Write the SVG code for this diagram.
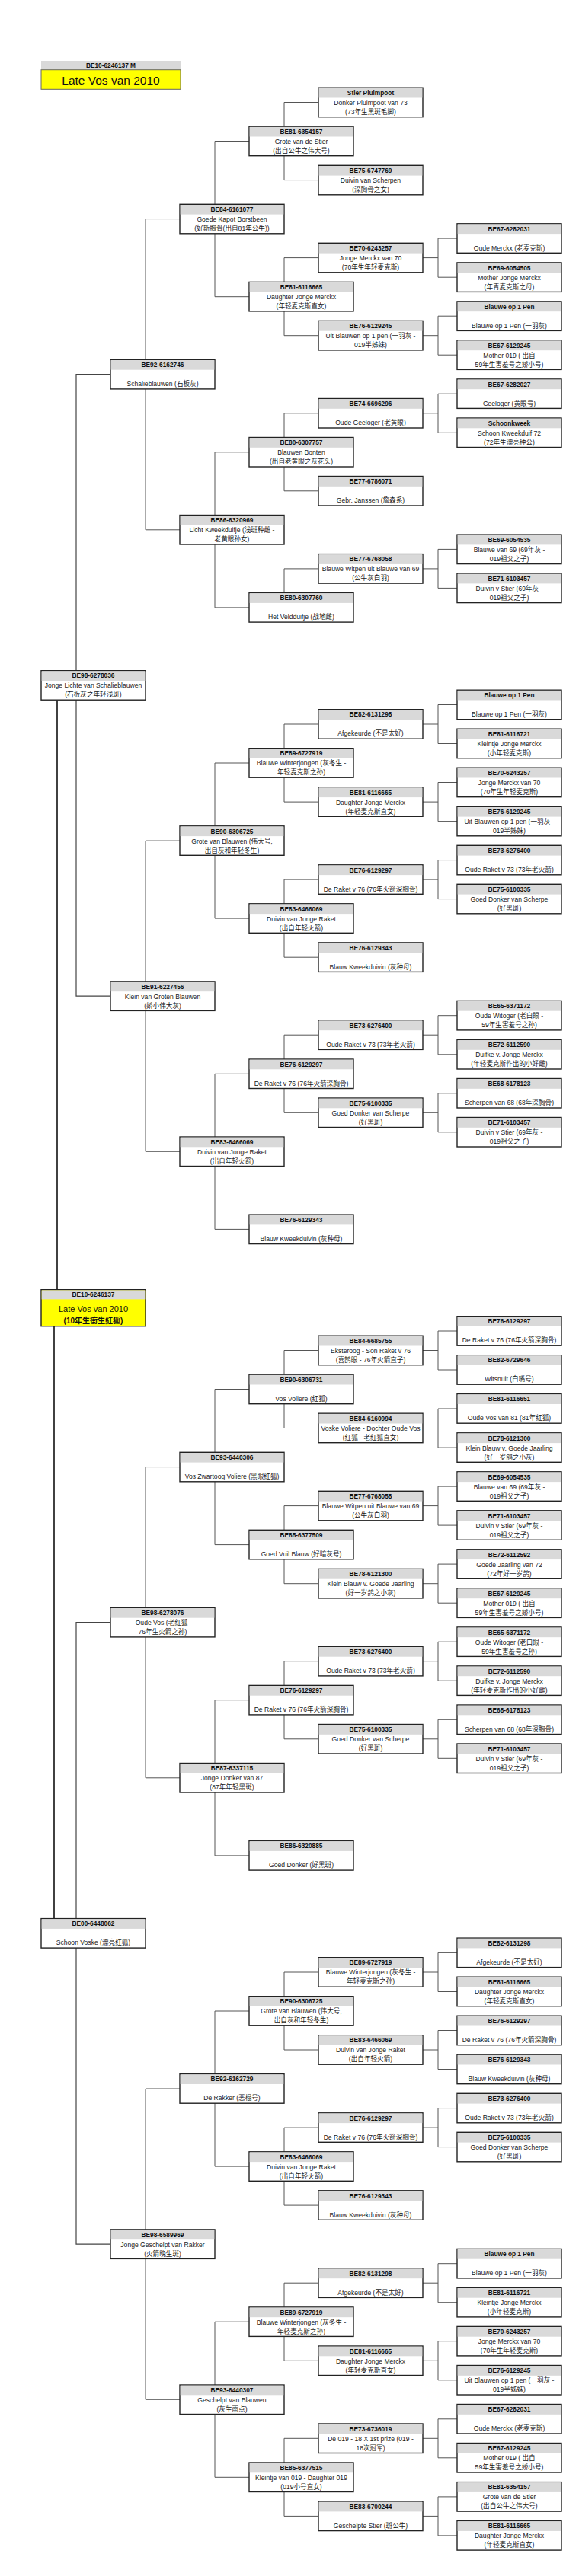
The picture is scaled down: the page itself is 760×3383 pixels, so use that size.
<svg xmlns="http://www.w3.org/2000/svg" xmlns:xlink="http://www.w3.org/1999/xlink" width="760" height="3383" viewBox="0 0 760 3383">
<style>
.h{font-family:"Liberation Sans","Noto Sans CJK SC",sans-serif;font-size:8.3px;font-weight:bold;text-anchor:middle;fill:#111}
.t{font-family:"Liberation Sans","Noto Sans CJK SC",sans-serif;font-size:8.6px;text-anchor:middle;fill:#1a1a1a}
#connectors path{fill:none;stroke:#555;stroke-width:1}
#connectors path.k{stroke:#111;stroke-width:1.6}
#connectors path.m{stroke:#444;stroke-width:1.2}
</style>
<defs>
<g id="bx"><rect x="0" y="0" width="137" height="38.5" fill="#fff" stroke="#222" stroke-width="1.4"/><rect x="0.7" y="0.7" width="135.6" height="12.6" fill="#d9d9d9"/></g>
</defs>
<rect width="760" height="3383" fill="#fff"/>

<g id="title">
<rect x="54" y="80" width="183" height="11.7" fill="#d9d9d9"/>
<text class="h" x="145.5" y="89">BE10-6246137 M</text>
<rect x="54" y="91.7" width="183" height="25.6" fill="#ffff00" stroke="#666" stroke-width="1"/>
<text x="145.5" y="110.5" style="font-family:'Liberation Sans',sans-serif;font-size:15.5px;text-anchor:middle;fill:#111">Late Vos van 2010</text>
</g>

<g id="connectors">
<path class="k" d="M75,919.2 V1693.7"/>
<path class="k" d="M71,1741.7 V2519.6"/>
<path class="m" d="M145,491.7 H100 V1308.2 H145"/>
<path class="m" d="M145,2130.7 H100 V2947.2 H145"/>
<path d="M236,287.6 H191 V695.8 H236"/>
<path d="M236,1104.1 H191 V1512.3 H236"/>
<path d="M236,1926.6 H191 V2334.8 H236"/>
<path d="M236,2743.0 H191 V3151.3 H236"/>
<path d="M327,185.5 H282 V389.7 H327"/>
<path d="M327,593.8 H282 V797.9 H327"/>
<path d="M327,1002.0 H282 V1206.1 H327"/>
<path d="M327,1410.3 H282 V1614.4 H327"/>
<path d="M327,1824.5 H282 V2028.6 H327"/>
<path d="M327,2232.7 H282 V2436.9 H327"/>
<path d="M327,2641.0 H282 V2845.1 H327"/>
<path d="M327,3049.2 H282 V3253.3 H327"/>
<path d="M418,134.5 H373 V236.6 H418"/>
<path d="M418,338.6 H373 V440.7 H418"/>
<path d="M418,542.8 H373 V644.8 H418"/>
<path d="M418,746.9 H373 V797.9"/>
<path d="M418,951.0 H373 V1053.1 H418"/>
<path d="M418,1155.1 H373 V1257.2 H418"/>
<path d="M418,1359.2 H373 V1461.3 H418"/>
<path d="M418,1773.5 H373 V1875.5 H418"/>
<path d="M418,1977.6 H373 V2079.7 H418"/>
<path d="M418,2181.7 H373 V2283.8 H418"/>
<path d="M418,2590.0 H373 V2692.0 H418"/>
<path d="M418,2794.1 H373 V2896.1 H418"/>
<path d="M418,2998.2 H373 V3100.3 H418"/>
<path d="M418,3202.3 H373 V3304.4 H418"/>
<path d="M600,313.1 H575 V364.2 H600 M555,338.6 H575"/>
<path d="M600,415.2 H575 V466.2 H600 M555,440.7 H575"/>
<path d="M600,517.2 H575 V568.3 H600 M555,542.8 H575"/>
<path d="M600,721.4 H575 V772.4 H600 M555,746.9 H575"/>
<path d="M600,925.5 H575 V976.5 H600 M555,951.0 H575"/>
<path d="M600,1027.5 H575 V1078.6 H600 M555,1053.1 H575"/>
<path d="M600,1129.6 H575 V1180.6 H600 M555,1155.1 H575"/>
<path d="M600,1333.7 H575 V1384.8 H600 M555,1359.2 H575"/>
<path d="M600,1435.8 H575 V1486.8 H600 M555,1461.3 H575"/>
<path d="M600,1748.0 H575 V1799.0 H600 M555,1773.5 H575"/>
<path d="M600,1850.0 H575 V1901.1 H600 M555,1875.5 H575"/>
<path d="M600,1952.1 H575 V2003.1 H600 M555,1977.6 H575"/>
<path d="M600,2054.1 H575 V2105.2 H600 M555,2079.7 H575"/>
<path d="M600,2156.2 H575 V2207.2 H600 M555,2181.7 H575"/>
<path d="M600,2258.3 H575 V2309.3 H600 M555,2283.8 H575"/>
<path d="M600,2564.4 H575 V2615.5 H600 M555,2590.0 H575"/>
<path d="M600,2666.5 H575 V2717.5 H600 M555,2692.0 H575"/>
<path d="M600,2768.6 H575 V2819.6 H600 M555,2794.1 H575"/>
<path d="M600,2972.7 H575 V3023.7 H600 M555,2998.2 H575"/>
<path d="M600,3074.7 H575 V3125.8 H600 M555,3100.3 H575"/>
<path d="M600,3176.8 H575 V3227.8 H600 M555,3202.3 H575"/>
<path d="M600,3278.9 H575 V3329.9 H600 M555,3304.4 H575"/>
</g>

<g id="root" transform="translate(54,1693.7)">
<rect x="0" y="0" width="137" height="48" fill="#ffff00" stroke="#222" stroke-width="1.4"/>
<rect x="0.7" y="0.7" width="135.6" height="12" fill="#d9d9d9"/>
<text class="h" x="68.5" y="9.6">BE10-6246137</text>
<text x="68.5" y="29.5" style="font-family:'Liberation Sans',sans-serif;font-size:11px;text-anchor:middle;fill:#111">Late Vos van 2010</text>
<text x="68.5" y="44.5" style="font-family:'Liberation Sans','Noto Sans CJK TC',sans-serif;font-size:10px;font-weight:bold;text-anchor:middle;fill:#111">(10年生衝生紅狐)</text>
</g>

<g id="c1s15" transform="translate(54,880.7)"><use href="#bx"/><text class="h" x="68.5" y="9.8">BE98-6278036</text><text class="t" x="68.5" y="22.8">Jonge Lichte van Schalieblauwen</text><text class="t" x="68.5" y="34.8">(石板灰之年轻浅斑)</text></g>
<g id="c1s47" transform="translate(54,2519.6)"><use href="#bx"/><text class="h" x="68.5" y="9.8">BE00-6448062</text><text class="t" x="68.5" y="34.8">Schoon Voske (漂亮红狐)</text></g>

<g id="c2s7" transform="translate(145,472.4)"><use href="#bx"/><text class="h" x="68.5" y="9.8">BE92-6162746</text><text class="t" x="68.5" y="34.8">Schalieblauwen (石板灰)</text></g>
<g id="c2s23" transform="translate(145,1288.9)"><use href="#bx"/><text class="h" x="68.5" y="9.8">BE91-6227456</text><text class="t" x="68.5" y="22.8">Klein van Groten Blauwen</text><text class="t" x="68.5" y="34.8">(娇小伟大灰)</text></g>
<g id="c2s39" transform="translate(145,2111.4)"><use href="#bx"/><text class="h" x="68.5" y="9.8">BE98-6278076</text><text class="t" x="68.5" y="22.8">Oude Vos  (老红狐-</text><text class="t" x="68.5" y="34.8">76年生火箭之孙)</text></g>
<g id="c2s55" transform="translate(145,2927.9)"><use href="#bx"/><text class="h" x="68.5" y="9.8">BE98-6589969</text><text class="t" x="68.5" y="22.8">Jonge Geschelpt van Rakker</text><text class="t" x="68.5" y="34.8">(火箭晚生斑)</text></g>

<g id="c3s3" transform="translate(236,268.3)"><use href="#bx"/><text class="h" x="68.5" y="9.8">BE84-6161077</text><text class="t" x="68.5" y="22.8">Goede Kapot Borstbeen</text><text class="t" x="68.5" y="34.8">(好斯胸骨(出自81年公牛))</text></g>
<g id="c3s11" transform="translate(236,676.5)"><use href="#bx"/><text class="h" x="68.5" y="9.8">BE86-6320969</text><text class="t" x="68.5" y="22.8">Licht Kweekduifje  (浅斑种雌 -</text><text class="t" x="68.5" y="34.8">老黄眼孙女)</text></g>
<g id="c3s19" transform="translate(236,1084.8)"><use href="#bx"/><text class="h" x="68.5" y="9.8">BE90-6306725</text><text class="t" x="68.5" y="22.8">Grote van Blauwen  (伟大号,</text><text class="t" x="68.5" y="34.8">出自灰和年轻冬生)</text></g>
<g id="c3s27" transform="translate(236,1493.0)"><use href="#bx"/><text class="h" x="68.5" y="9.8">BE83-6466069</text><text class="t" x="68.5" y="22.8">Duivin van Jonge Raket</text><text class="t" x="68.5" y="34.8">(出自年轻火箭)</text></g>
<g id="c3s35" transform="translate(236,1907.3)"><use href="#bx"/><text class="h" x="68.5" y="9.8">BE93-6440306</text><text class="t" x="68.5" y="34.8">Vos Zwartoog Voliere (黑眼红狐)</text></g>
<g id="c3s43" transform="translate(236,2315.5)"><use href="#bx"/><text class="h" x="68.5" y="9.8">BE87-6337115</text><text class="t" x="68.5" y="22.8">Jonge Donker van 87</text><text class="t" x="68.5" y="34.8">(87年年轻黑斑)</text></g>
<g id="c3s51" transform="translate(236,2723.7)"><use href="#bx"/><text class="h" x="68.5" y="9.8">BE92-6162729</text><text class="t" x="68.5" y="34.8">De Rakker (恶棍号)</text></g>
<g id="c3s59" transform="translate(236,3132.0)"><use href="#bx"/><text class="h" x="68.5" y="9.8">BE93-6440307</text><text class="t" x="68.5" y="22.8">Geschelpt van Blauwen</text><text class="t" x="68.5" y="34.8">(灰生雨点)</text></g>

<g id="c4s1" transform="translate(327,166.2)"><use href="#bx"/><text class="h" x="68.5" y="9.8">BE81-6354157</text><text class="t" x="68.5" y="22.8">Grote van de Stier</text><text class="t" x="68.5" y="34.8">(出自公牛之伟大号)</text></g>
<g id="c4s5" transform="translate(327,370.4)"><use href="#bx"/><text class="h" x="68.5" y="9.8">BE81-6116665</text><text class="t" x="68.5" y="22.8">Daughter Jonge Merckx</text><text class="t" x="68.5" y="34.8">(年轻麦克斯直女)</text></g>
<g id="c4s9" transform="translate(327,574.5)"><use href="#bx"/><text class="h" x="68.5" y="9.8">BE80-6307757</text><text class="t" x="68.5" y="22.8">Blauwen Bonten</text><text class="t" x="68.5" y="34.8">(出自老黄眼之灰花头)</text></g>
<g id="c4s13" transform="translate(327,778.6)"><use href="#bx"/><text class="h" x="68.5" y="9.8">BE80-6307760</text><text class="t" x="68.5" y="34.8">Het Veldduifje (战地雌)</text></g>
<g id="c4s17" transform="translate(327,982.7)"><use href="#bx"/><text class="h" x="68.5" y="9.8">BE89-6727919</text><text class="t" x="68.5" y="22.8">Blauwe Winterjongen (灰冬生 -</text><text class="t" x="68.5" y="34.8">年轻麦克斯之孙)</text></g>
<g id="c4s21" transform="translate(327,1186.8)"><use href="#bx"/><text class="h" x="68.5" y="9.8">BE83-6466069</text><text class="t" x="68.5" y="22.8">Duivin van Jonge Raket</text><text class="t" x="68.5" y="34.8">(出自年轻火箭)</text></g>
<g id="c4s25" transform="translate(327,1391.0)"><use href="#bx"/><text class="h" x="68.5" y="9.8">BE76-6129297</text><text class="t" x="68.5" y="34.8">De Raket v 76 (76年火箭深胸骨)</text></g>
<g id="c4s29" transform="translate(327,1595.1)"><use href="#bx"/><text class="h" x="68.5" y="9.8">BE76-6129343</text><text class="t" x="68.5" y="34.8">Blauw Kweekduivin (灰种母)</text></g>
<g id="c4s33" transform="translate(327,1805.2)"><use href="#bx"/><text class="h" x="68.5" y="9.8">BE90-6306731</text><text class="t" x="68.5" y="34.8">Vos Voliere (红狐)</text></g>
<g id="c4s37" transform="translate(327,2009.3)"><use href="#bx"/><text class="h" x="68.5" y="9.8">BE85-6377509</text><text class="t" x="68.5" y="34.8">Goed Vuil Blauw (好暗灰号)</text></g>
<g id="c4s41" transform="translate(327,2213.4)"><use href="#bx"/><text class="h" x="68.5" y="9.8">BE76-6129297</text><text class="t" x="68.5" y="34.8">De Raket v 76 (76年火箭深胸骨)</text></g>
<g id="c4s45" transform="translate(327,2417.6)"><use href="#bx"/><text class="h" x="68.5" y="9.8">BE86-6320885</text><text class="t" x="68.5" y="34.8">Goed Donker (好黑斑)</text></g>
<g id="c4s49" transform="translate(327,2621.7)"><use href="#bx"/><text class="h" x="68.5" y="9.8">BE90-6306725</text><text class="t" x="68.5" y="22.8">Grote van Blauwen  (伟大号,</text><text class="t" x="68.5" y="34.8">出自灰和年轻冬生)</text></g>
<g id="c4s53" transform="translate(327,2825.8)"><use href="#bx"/><text class="h" x="68.5" y="9.8">BE83-6466069</text><text class="t" x="68.5" y="22.8">Duivin van Jonge Raket</text><text class="t" x="68.5" y="34.8">(出自年轻火箭)</text></g>
<g id="c4s57" transform="translate(327,3029.9)"><use href="#bx"/><text class="h" x="68.5" y="9.8">BE89-6727919</text><text class="t" x="68.5" y="22.8">Blauwe Winterjongen (灰冬生 -</text><text class="t" x="68.5" y="34.8">年轻麦克斯之孙)</text></g>
<g id="c4s61" transform="translate(327,3234.0)"><use href="#bx"/><text class="h" x="68.5" y="9.8">BE85-6377515</text><text class="t" x="68.5" y="22.8">Kleintje van 019 - Daughter 019</text><text class="t" x="68.5" y="34.8">(019小号直女)</text></g>

<g id="c5s0" transform="translate(418,115.2)"><use href="#bx"/><text class="h" x="68.5" y="9.8">Stier Pluimpoot</text><text class="t" x="68.5" y="22.8">Donker Pluimpoot van 73</text><text class="t" x="68.5" y="34.8">(73年生黑斑毛脚)</text></g>
<g id="c5s2" transform="translate(418,217.3)"><use href="#bx"/><text class="h" x="68.5" y="9.8">BE75-6747769</text><text class="t" x="68.5" y="22.8">Duivin van Scherpen</text><text class="t" x="68.5" y="34.8">(深胸骨之女)</text></g>
<g id="c5s4" transform="translate(418,319.3)"><use href="#bx"/><text class="h" x="68.5" y="9.8">BE70-6243257</text><text class="t" x="68.5" y="22.8">Jonge Merckx van 70</text><text class="t" x="68.5" y="34.8">(70年生年轻麦克斯)</text></g>
<g id="c5s6" transform="translate(418,421.4)"><use href="#bx"/><text class="h" x="68.5" y="9.8">BE76-6129245</text><text class="t" x="68.5" y="22.8">Uit Blauwen op 1 pen (一羽灰 -</text><text class="t" x="68.5" y="34.8">019半姊妹)</text></g>
<g id="c5s8" transform="translate(418,523.5)"><use href="#bx"/><text class="h" x="68.5" y="9.8">BE74-6696296</text><text class="t" x="68.5" y="34.8">Oude Geeloger (老黄眼)</text></g>
<g id="c5s10" transform="translate(418,625.5)"><use href="#bx"/><text class="h" x="68.5" y="9.8">BE77-6786071</text><text class="t" x="68.5" y="34.8">Gebr. Janssen (詹森系)</text></g>
<g id="c5s12" transform="translate(418,727.6)"><use href="#bx"/><text class="h" x="68.5" y="9.8">BE77-6768058</text><text class="t" x="68.5" y="22.8">Blauwe Witpen uit Blauwe van 69</text><text class="t" x="68.5" y="34.8">(公牛灰白羽)</text></g>
<g id="c5s16" transform="translate(418,931.7)"><use href="#bx"/><text class="h" x="68.5" y="9.8">BE82-6131298</text><text class="t" x="68.5" y="34.8">Afgekeurde (不是太好)</text></g>
<g id="c5s18" transform="translate(418,1033.8)"><use href="#bx"/><text class="h" x="68.5" y="9.8">BE81-6116665</text><text class="t" x="68.5" y="22.8">Daughter Jonge Merckx</text><text class="t" x="68.5" y="34.8">(年轻麦克斯直女)</text></g>
<g id="c5s20" transform="translate(418,1135.8)"><use href="#bx"/><text class="h" x="68.5" y="9.8">BE76-6129297</text><text class="t" x="68.5" y="34.8">De Raket v 76 (76年火箭深胸骨)</text></g>
<g id="c5s22" transform="translate(418,1237.9)"><use href="#bx"/><text class="h" x="68.5" y="9.8">BE76-6129343</text><text class="t" x="68.5" y="34.8">Blauw Kweekduivin (灰种母)</text></g>
<g id="c5s24" transform="translate(418,1339.9)"><use href="#bx"/><text class="h" x="68.5" y="9.8">BE73-6276400</text><text class="t" x="68.5" y="34.8">Oude Raket v 73 (73年老火箭)</text></g>
<g id="c5s26" transform="translate(418,1442.0)"><use href="#bx"/><text class="h" x="68.5" y="9.8">BE75-6100335</text><text class="t" x="68.5" y="22.8">Goed Donker van Scherpe</text><text class="t" x="68.5" y="34.8">(好黑斑)</text></g>
<g id="c5s32" transform="translate(418,1754.2)"><use href="#bx"/><text class="h" x="68.5" y="9.8">BE84-6685755</text><text class="t" x="68.5" y="22.8">Eksteroog - Son Raket v 76</text><text class="t" x="68.5" y="34.8">(喜鹊眼 - 76年火箭直子)</text></g>
<g id="c5s34" transform="translate(418,1856.2)"><use href="#bx"/><text class="h" x="68.5" y="9.8">BE84-6160994</text><text class="t" x="68.5" y="22.8">Voske Voliere - Dochter Oude Vos</text><text class="t" x="68.5" y="34.8">(红狐 - 老红狐直女)</text></g>
<g id="c5s36" transform="translate(418,1958.3)"><use href="#bx"/><text class="h" x="68.5" y="9.8">BE77-6768058</text><text class="t" x="68.5" y="22.8">Blauwe Witpen uit Blauwe van 69</text><text class="t" x="68.5" y="34.8">(公牛灰白羽)</text></g>
<g id="c5s38" transform="translate(418,2060.4)"><use href="#bx"/><text class="h" x="68.5" y="9.8">BE78-6121300</text><text class="t" x="68.5" y="22.8">Klein Blauw v. Goede Jaarling</text><text class="t" x="68.5" y="34.8">(好一岁鸽之小灰)</text></g>
<g id="c5s40" transform="translate(418,2162.4)"><use href="#bx"/><text class="h" x="68.5" y="9.8">BE73-6276400</text><text class="t" x="68.5" y="34.8">Oude Raket v 73 (73年老火箭)</text></g>
<g id="c5s42" transform="translate(418,2264.5)"><use href="#bx"/><text class="h" x="68.5" y="9.8">BE75-6100335</text><text class="t" x="68.5" y="22.8">Goed Donker van Scherpe</text><text class="t" x="68.5" y="34.8">(好黑斑)</text></g>
<g id="c5s48" transform="translate(418,2570.7)"><use href="#bx"/><text class="h" x="68.5" y="9.8">BE89-6727919</text><text class="t" x="68.5" y="22.8">Blauwe Winterjongen (灰冬生 -</text><text class="t" x="68.5" y="34.8">年轻麦克斯之孙)</text></g>
<g id="c5s50" transform="translate(418,2672.7)"><use href="#bx"/><text class="h" x="68.5" y="9.8">BE83-6466069</text><text class="t" x="68.5" y="22.8">Duivin van Jonge Raket</text><text class="t" x="68.5" y="34.8">(出自年轻火箭)</text></g>
<g id="c5s52" transform="translate(418,2774.8)"><use href="#bx"/><text class="h" x="68.5" y="9.8">BE76-6129297</text><text class="t" x="68.5" y="34.8">De Raket v 76 (76年火箭深胸骨)</text></g>
<g id="c5s54" transform="translate(418,2876.8)"><use href="#bx"/><text class="h" x="68.5" y="9.8">BE76-6129343</text><text class="t" x="68.5" y="34.8">Blauw Kweekduivin (灰种母)</text></g>
<g id="c5s56" transform="translate(418,2978.9)"><use href="#bx"/><text class="h" x="68.5" y="9.8">BE82-6131298</text><text class="t" x="68.5" y="34.8">Afgekeurde (不是太好)</text></g>
<g id="c5s58" transform="translate(418,3081.0)"><use href="#bx"/><text class="h" x="68.5" y="9.8">BE81-6116665</text><text class="t" x="68.5" y="22.8">Daughter Jonge Merckx</text><text class="t" x="68.5" y="34.8">(年轻麦克斯直女)</text></g>
<g id="c5s60" transform="translate(418,3183.0)"><use href="#bx"/><text class="h" x="68.5" y="9.8">BE73-6736019</text><text class="t" x="68.5" y="22.8">De 019 - 18 X 1st prize (019 -</text><text class="t" x="68.5" y="34.8">18次冠军)</text></g>
<g id="c5s62" transform="translate(418,3285.1)"><use href="#bx"/><text class="h" x="68.5" y="9.8">BE83-6700244</text><text class="t" x="68.5" y="34.8">Geschelpte Stier (斑公牛)</text></g>

<g id="c6s4" transform="translate(600,293.8)"><use href="#bx"/><text class="h" x="68.5" y="9.8">BE67-6282031</text><text class="t" x="68.5" y="34.8">Oude Merckx (老麦克斯)</text></g>
<g id="c6s5" transform="translate(600,344.9)"><use href="#bx"/><text class="h" x="68.5" y="9.8">BE69-6054505</text><text class="t" x="68.5" y="22.8">Mother Jonge Merckx</text><text class="t" x="68.5" y="34.8">(年青麦克斯之母)</text></g>
<g id="c6s6" transform="translate(600,395.9)"><use href="#bx"/><text class="h" x="68.5" y="9.8">Blauwe op 1 Pen</text><text class="t" x="68.5" y="34.8">Blauwe op 1 Pen (一羽灰)</text></g>
<g id="c6s7" transform="translate(600,446.9)"><use href="#bx"/><text class="h" x="68.5" y="9.8">BE67-6129245</text><text class="t" x="68.5" y="22.8">Mother 019 ( 出自</text><text class="t" x="68.5" y="34.8">59年生害羞号之娇小号)</text></g>
<g id="c6s8" transform="translate(600,497.9)"><use href="#bx"/><text class="h" x="68.5" y="9.8">BE67-6282027</text><text class="t" x="68.5" y="34.8">Geeloger (黄眼号)</text></g>
<g id="c6s9" transform="translate(600,549.0)"><use href="#bx"/><text class="h" x="68.5" y="9.8">Schoonkweek</text><text class="t" x="68.5" y="22.8">Schoon Kweekduif 72</text><text class="t" x="68.5" y="34.8">(72年生漂亮种公)</text></g>
<g id="c6s12" transform="translate(600,702.1)"><use href="#bx"/><text class="h" x="68.5" y="9.8">BE69-6054535</text><text class="t" x="68.5" y="22.8">Blauwe van 69  (69年灰 -</text><text class="t" x="68.5" y="34.8">019祖父之子)</text></g>
<g id="c6s13" transform="translate(600,753.1)"><use href="#bx"/><text class="h" x="68.5" y="9.8">BE71-6103457</text><text class="t" x="68.5" y="22.8">Duivin v Stier  (69年灰 -</text><text class="t" x="68.5" y="34.8">019祖父之子)</text></g>
<g id="c6s16" transform="translate(600,906.2)"><use href="#bx"/><text class="h" x="68.5" y="9.8">Blauwe op 1 Pen</text><text class="t" x="68.5" y="34.8">Blauwe op 1 Pen (一羽灰)</text></g>
<g id="c6s17" transform="translate(600,957.2)"><use href="#bx"/><text class="h" x="68.5" y="9.8">BE81-6116721</text><text class="t" x="68.5" y="22.8">Kleintje Jonge Merckx</text><text class="t" x="68.5" y="34.8">(小年轻麦克斯)</text></g>
<g id="c6s18" transform="translate(600,1008.2)"><use href="#bx"/><text class="h" x="68.5" y="9.8">BE70-6243257</text><text class="t" x="68.5" y="22.8">Jonge Merckx van 70</text><text class="t" x="68.5" y="34.8">(70年生年轻麦克斯)</text></g>
<g id="c6s19" transform="translate(600,1059.3)"><use href="#bx"/><text class="h" x="68.5" y="9.8">BE76-6129245</text><text class="t" x="68.5" y="22.8">Uit Blauwen op 1 pen (一羽灰 -</text><text class="t" x="68.5" y="34.8">019半姊妹)</text></g>
<g id="c6s20" transform="translate(600,1110.3)"><use href="#bx"/><text class="h" x="68.5" y="9.8">BE73-6276400</text><text class="t" x="68.5" y="34.8">Oude Raket v 73 (73年老火箭)</text></g>
<g id="c6s21" transform="translate(600,1161.3)"><use href="#bx"/><text class="h" x="68.5" y="9.8">BE75-6100335</text><text class="t" x="68.5" y="22.8">Goed Donker van Scherpe</text><text class="t" x="68.5" y="34.8">(好黑斑)</text></g>
<g id="c6s24" transform="translate(600,1314.4)"><use href="#bx"/><text class="h" x="68.5" y="9.8">BE65-6371172</text><text class="t" x="68.5" y="22.8">Oude Witoger (老白眼 -</text><text class="t" x="68.5" y="34.8">59年生害羞号之孙)</text></g>
<g id="c6s25" transform="translate(600,1365.5)"><use href="#bx"/><text class="h" x="68.5" y="9.8">BE72-6112590</text><text class="t" x="68.5" y="22.8">Duifke v. Jonge Merckx</text><text class="t" x="68.5" y="34.8">(年轻麦克斯作出的小好雌)</text></g>
<g id="c6s26" transform="translate(600,1416.5)"><use href="#bx"/><text class="h" x="68.5" y="9.8">BE68-6178123</text><text class="t" x="68.5" y="34.8">Scherpen van 68  (68年深胸骨)</text></g>
<g id="c6s27" transform="translate(600,1467.5)"><use href="#bx"/><text class="h" x="68.5" y="9.8">BE71-6103457</text><text class="t" x="68.5" y="22.8">Duivin v Stier  (69年灰 -</text><text class="t" x="68.5" y="34.8">019祖父之子)</text></g>
<g id="c6s32" transform="translate(600,1728.7)"><use href="#bx"/><text class="h" x="68.5" y="9.8">BE76-6129297</text><text class="t" x="68.5" y="34.8">De Raket v 76 (76年火箭深胸骨)</text></g>
<g id="c6s33" transform="translate(600,1779.7)"><use href="#bx"/><text class="h" x="68.5" y="9.8">BE82-6729646</text><text class="t" x="68.5" y="34.8">Witsnuit (白嘴号)</text></g>
<g id="c6s34" transform="translate(600,1830.7)"><use href="#bx"/><text class="h" x="68.5" y="9.8">BE81-6116651</text><text class="t" x="68.5" y="34.8">Oude Vos van 81 (81年红狐)</text></g>
<g id="c6s35" transform="translate(600,1881.8)"><use href="#bx"/><text class="h" x="68.5" y="9.8">BE78-6121300</text><text class="t" x="68.5" y="22.8">Klein Blauw v. Goede Jaarling</text><text class="t" x="68.5" y="34.8">(好一岁鸽之小灰)</text></g>
<g id="c6s36" transform="translate(600,1932.8)"><use href="#bx"/><text class="h" x="68.5" y="9.8">BE69-6054535</text><text class="t" x="68.5" y="22.8">Blauwe van 69  (69年灰 -</text><text class="t" x="68.5" y="34.8">019祖父之子)</text></g>
<g id="c6s37" transform="translate(600,1983.8)"><use href="#bx"/><text class="h" x="68.5" y="9.8">BE71-6103457</text><text class="t" x="68.5" y="22.8">Duivin v Stier  (69年灰 -</text><text class="t" x="68.5" y="34.8">019祖父之子)</text></g>
<g id="c6s38" transform="translate(600,2034.8)"><use href="#bx"/><text class="h" x="68.5" y="9.8">BE72-6112592</text><text class="t" x="68.5" y="22.8">Goede Jaarling van 72</text><text class="t" x="68.5" y="34.8">(72年好一岁鸽)</text></g>
<g id="c6s39" transform="translate(600,2085.9)"><use href="#bx"/><text class="h" x="68.5" y="9.8">BE67-6129245</text><text class="t" x="68.5" y="22.8">Mother 019 ( 出自</text><text class="t" x="68.5" y="34.8">59年生害羞号之娇小号)</text></g>
<g id="c6s40" transform="translate(600,2136.9)"><use href="#bx"/><text class="h" x="68.5" y="9.8">BE65-6371172</text><text class="t" x="68.5" y="22.8">Oude Witoger (老白眼 -</text><text class="t" x="68.5" y="34.8">59年生害羞号之孙)</text></g>
<g id="c6s41" transform="translate(600,2187.9)"><use href="#bx"/><text class="h" x="68.5" y="9.8">BE72-6112590</text><text class="t" x="68.5" y="22.8">Duifke v. Jonge Merckx</text><text class="t" x="68.5" y="34.8">(年轻麦克斯作出的小好雌)</text></g>
<g id="c6s42" transform="translate(600,2239.0)"><use href="#bx"/><text class="h" x="68.5" y="9.8">BE68-6178123</text><text class="t" x="68.5" y="34.8">Scherpen van 68  (68年深胸骨)</text></g>
<g id="c6s43" transform="translate(600,2290.0)"><use href="#bx"/><text class="h" x="68.5" y="9.8">BE71-6103457</text><text class="t" x="68.5" y="22.8">Duivin v Stier  (69年灰 -</text><text class="t" x="68.5" y="34.8">019祖父之子)</text></g>
<g id="c6s48" transform="translate(600,2545.1)"><use href="#bx"/><text class="h" x="68.5" y="9.8">BE82-6131298</text><text class="t" x="68.5" y="34.8">Afgekeurde (不是太好)</text></g>
<g id="c6s49" transform="translate(600,2596.2)"><use href="#bx"/><text class="h" x="68.5" y="9.8">BE81-6116665</text><text class="t" x="68.5" y="22.8">Daughter Jonge Merckx</text><text class="t" x="68.5" y="34.8">(年轻麦克斯直女)</text></g>
<g id="c6s50" transform="translate(600,2647.2)"><use href="#bx"/><text class="h" x="68.5" y="9.8">BE76-6129297</text><text class="t" x="68.5" y="34.8">De Raket v 76 (76年火箭深胸骨)</text></g>
<g id="c6s51" transform="translate(600,2698.2)"><use href="#bx"/><text class="h" x="68.5" y="9.8">BE76-6129343</text><text class="t" x="68.5" y="34.8">Blauw Kweekduivin (灰种母)</text></g>
<g id="c6s52" transform="translate(600,2749.3)"><use href="#bx"/><text class="h" x="68.5" y="9.8">BE73-6276400</text><text class="t" x="68.5" y="34.8">Oude Raket v 73 (73年老火箭)</text></g>
<g id="c6s53" transform="translate(600,2800.3)"><use href="#bx"/><text class="h" x="68.5" y="9.8">BE75-6100335</text><text class="t" x="68.5" y="22.8">Goed Donker van Scherpe</text><text class="t" x="68.5" y="34.8">(好黑斑)</text></g>
<g id="c6s56" transform="translate(600,2953.4)"><use href="#bx"/><text class="h" x="68.5" y="9.8">Blauwe op 1 Pen</text><text class="t" x="68.5" y="34.8">Blauwe op 1 Pen (一羽灰)</text></g>
<g id="c6s57" transform="translate(600,3004.4)"><use href="#bx"/><text class="h" x="68.5" y="9.8">BE81-6116721</text><text class="t" x="68.5" y="22.8">Kleintje Jonge Merckx</text><text class="t" x="68.5" y="34.8">(小年轻麦克斯)</text></g>
<g id="c6s58" transform="translate(600,3055.4)"><use href="#bx"/><text class="h" x="68.5" y="9.8">BE70-6243257</text><text class="t" x="68.5" y="22.8">Jonge Merckx van 70</text><text class="t" x="68.5" y="34.8">(70年生年轻麦克斯)</text></g>
<g id="c6s59" transform="translate(600,3106.5)"><use href="#bx"/><text class="h" x="68.5" y="9.8">BE76-6129245</text><text class="t" x="68.5" y="22.8">Uit Blauwen op 1 pen (一羽灰 -</text><text class="t" x="68.5" y="34.8">019半姊妹)</text></g>
<g id="c6s60" transform="translate(600,3157.5)"><use href="#bx"/><text class="h" x="68.5" y="9.8">BE67-6282031</text><text class="t" x="68.5" y="34.8">Oude Merckx (老麦克斯)</text></g>
<g id="c6s61" transform="translate(600,3208.5)"><use href="#bx"/><text class="h" x="68.5" y="9.8">BE67-6129245</text><text class="t" x="68.5" y="22.8">Mother 019 ( 出自</text><text class="t" x="68.5" y="34.8">59年生害羞号之娇小号)</text></g>
<g id="c6s62" transform="translate(600,3259.6)"><use href="#bx"/><text class="h" x="68.5" y="9.8">BE81-6354157</text><text class="t" x="68.5" y="22.8">Grote van de Stier</text><text class="t" x="68.5" y="34.8">(出自公牛之伟大号)</text></g>
<g id="c6s63" transform="translate(600,3310.6)"><use href="#bx"/><text class="h" x="68.5" y="9.8">BE81-6116665</text><text class="t" x="68.5" y="22.8">Daughter Jonge Merckx</text><text class="t" x="68.5" y="34.8">(年轻麦克斯直女)</text></g>
</svg>
